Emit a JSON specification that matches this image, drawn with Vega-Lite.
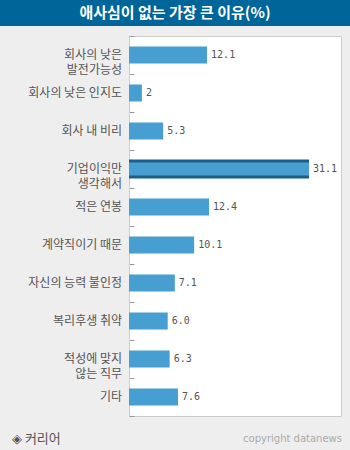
{
  "$schema": "https://vega.github.io/schema/vega-lite/v6.json",
  "background": "#eeeeee",
  "padding": 0,
  "spacing": 9,
  "config": {"view": {"stroke": null}},
  "datasets": {
    "reasons": [
      {"reason": "회사의 낮은|발전가능성", "value": 12.1, "label": "12.1", "highlight": false},
      {"reason": "회사의 낮은 인지도", "value": 2, "label": "2", "highlight": false},
      {"reason": "회사 내 비리", "value": 5.3, "label": "5.3", "highlight": false},
      {"reason": "기업이익만|생각해서", "value": 31.1, "label": "31.1", "highlight": true},
      {"reason": "적은 연봉", "value": 12.4, "label": "12.4", "highlight": false},
      {"reason": "계약직이기 때문", "value": 10.1, "label": "10.1", "highlight": false},
      {"reason": "자신의 능력 불인정", "value": 7.1, "label": "7.1", "highlight": false},
      {"reason": "복리후생 취약", "value": 6.0, "label": "6.0", "highlight": false},
      {"reason": "적성에 맞지|않는 직무", "value": 6.3, "label": "6.3", "highlight": false},
      {"reason": "기타", "value": 7.6, "label": "7.6", "highlight": false}
    ]
  },
  "vconcat": [
    {
      "width": 350,
      "height": 26,
      "view": {"fill": "#006699", "stroke": null},
      "data": {"values": [{"title": "애사심이 없는 가장 큰 이유(%)"}]},
      "mark": {"type": "text", "color": "white", "font": "Noto Sans CJK KR", "fontSize": 15, "fontWeight": "bold", "baseline": "middle", "align": "center"},
      "encoding": {"text": {"field": "title"}}
    },
    {
      "spacing": 0,
      "hconcat": [
        {
          "width": 128,
          "height": 380,
          "view": {"stroke": null},
          "data": {"name": "reasons"},
          "mark": {"type": "text", "align": "right", "baseline": "middle", "dx": -6, "lineBreak": "|", "lineHeight": 15, "font": "Noto Sans CJK KR", "fontSize": 12, "color": "#555555"},
          "encoding": {
            "y": {
              "field": "reason",
              "type": "nominal",
              "sort": ["회사의 낮은|발전가능성", "회사의 낮은 인지도", "회사 내 비리", "기업이익만|생각해서", "적은 연봉", "계약직이기 때문", "자신의 능력 불인정", "복리후생 취약", "적성에 맞지|않는 직무", "기타"],
              "scale": {"paddingInner": 0, "paddingOuter": 0},
              "axis": null
            },
            "x": {"datum": 1, "type": "quantitative", "scale": {"domain": [0, 1]}, "axis": null},
            "text": {"field": "reason"}
          }
        },
        {
          "width": 212,
          "height": 380,
          "view": {"fill": "white", "stroke": "#cccccc"},
          "data": {"name": "reasons"},
          "encoding": {
            "y": {
              "field": "reason",
              "type": "nominal",
              "sort": ["회사의 낮은|발전가능성", "회사의 낮은 인지도", "회사 내 비리", "기업이익만|생각해서", "적은 연봉", "계약직이기 때문", "자신의 능력 불인정", "복리후생 취약", "적성에 맞지|않는 직무", "기타"],
              "scale": {"paddingInner": 0, "paddingOuter": 0},
              "axis": {
                "title": null,
                "labels": false,
                "domainColor": "#cccccc",
                "tickColor": "#999999",
                "tickSize": -5,
                "tickBand": "extent",
                "minExtent": 0,
                "maxExtent": 0
              }
            },
            "x": {
              "field": "value",
              "type": "quantitative",
              "scale": {"domain": [0, 27.9], "range": [0, 180], "clamp": true},
              "axis": null
            }
          },
          "layer": [
            {
              "transform": [{"filter": "datum.highlight"}],
              "mark": {"type": "bar", "color": "#1b5e8a", "size": 19}
            },
            {
              "mark": {"type": "bar", "color": "#469fd0"},
              "encoding": {
                "size": {"condition": {"test": "datum.highlight", "value": 13}, "value": 17}
              }
            },
            {
              "mark": {"type": "text", "align": "left", "baseline": "middle", "dx": 4, "font": "DejaVu Sans Mono", "fontSize": 10, "color": "#555555"},
              "encoding": {"text": {"field": "label"}}
            }
          ]
        }
      ]
    },
    {
      "width": 350,
      "height": 26,
      "view": {"stroke": null},
      "data": {
        "values": [
          {"side": "left", "text": "◈ 커리어"},
          {"side": "right", "text": "copyright datanews"}
        ]
      },
      "encoding": {
        "x": {"field": "side", "type": "nominal", "scale": {"type": "point", "padding": 0, "domain": ["left", "right"], "range": [12, 342]}, "axis": null}
      },
      "layer": [
        {
          "transform": [{"filter": "datum.side == 'left'"}],
          "mark": {"type": "text", "align": "left", "baseline": "middle", "font": "Noto Sans CJK KR", "fontSize": 13, "color": "#555555"},
          "encoding": {"text": {"field": "text"}}
        },
        {
          "transform": [{"filter": "datum.side == 'right'"}],
          "mark": {"type": "text", "align": "right", "baseline": "middle", "font": "DejaVu Sans", "fontSize": 10, "color": "#aaaaaa"},
          "encoding": {"text": {"field": "text"}}
        }
      ]
    }
  ]
}
